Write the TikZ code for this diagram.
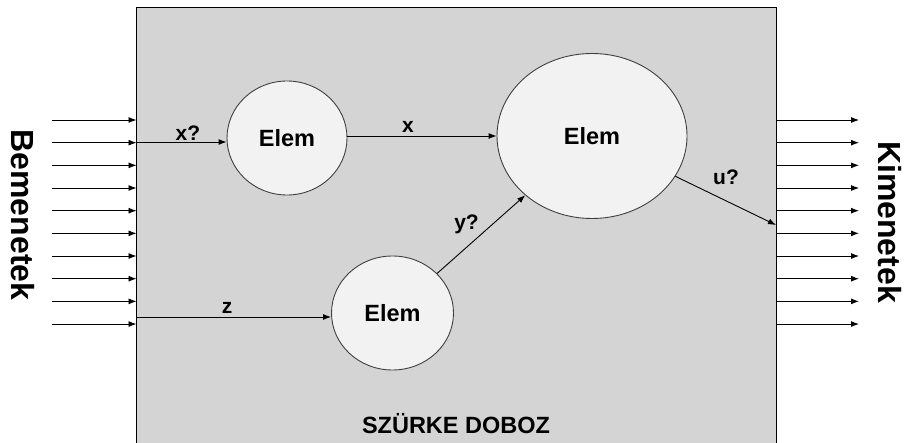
\documentclass[tikz,border=0pt]{standalone}
\usepackage{fontspec}
\setmainfont{Liberation Sans}
\usetikzlibrary{arrows.meta,shapes.geometric}
\definecolor{boxfill}{HTML}{D4D4D4}
\definecolor{elemfill}{HTML}{F2F2F2}
\definecolor{elemline}{HTML}{404040}
\begin{document}
\begin{tikzpicture}[x=1pt,y=-1pt,
  arr/.style={draw=black, line width=0.9pt, -{Latex[length=8pt,width=6pt]}},
  elem/.style={ellipse, draw=elemline, line width=0.9pt, fill=elemfill, inner sep=0pt,
    font=\bfseries\fontsize{23.5}{25}\selectfont},
  lbl/.style={font=\bfseries\fontsize{21}{23}\selectfont, anchor=base, inner sep=0pt},
  side/.style={font=\bfseries\fontsize{32}{34}\selectfont, rotate=-90, inner sep=0pt}
]
\useasboundingbox (0,0) rectangle (909,443);
\fill[white] (0,0) rectangle (909,443);
% grey box
\draw[fill=boxfill, draw=black, line width=1.6pt] (136.5,7.5) rectangle (776.5,460);
% side labels
\node[side] (bem) at (22.5,215) {Bemenetek};
\node[side] (kim) at (890,222) {Kimenetek};
% inputs / outputs
\foreach \i in {0,...,9}{
  \coordinate (inS\i) at (52,{120+22.67*\i});
  \coordinate (inE\i) at (136.5,{120+22.67*\i});
  \coordinate (outS\i) at (776.5,{120+22.67*\i});
  \coordinate (outE\i) at (859,{120+22.67*\i});
  \draw[arr] (inS\i) -- (inE\i);
  \draw[arr] (outS\i) -- (outE\i);
}
% elements
\node[elem, minimum width=120pt, minimum height=114pt] (c1) at (287,138) {Elem};
\node[elem, minimum width=190pt, minimum height=165pt] (big) at (592,136) {Elem};
\node[elem, minimum width=122pt, minimum height=114pt] (c3) at (392.5,313) {Elem};
% connectors
\coordinate (xin) at (136.5,142);
\coordinate (zin) at (136.5,317);
\coordinate (uout) at (776,225);
\draw[arr] (xin) -- (c1.west |- xin);
\draw[arr] (zin) -- (c3.west |- zin);
\draw[arr] (c1.east |- big) -- (big.west);
\draw[arr] (c3) -- (big);
\draw[arr] (big) -- (uout);
% labels
\node[lbl] (lxq) at (188,141) {x?};
\node[lbl] (lx) at (408,133) {x};
\node[lbl] (lz) at (227,313) {z};
\node[lbl] (lyq) at (466.5,230) {y?};
\node[lbl] (luq) at (726,185) {u?};
\node[lbl, font=\bfseries\fontsize{23.5}{25}\selectfont] (title) at (456,433) {SZÜRKE DOBOZ};
\end{tikzpicture}
\end{document}
